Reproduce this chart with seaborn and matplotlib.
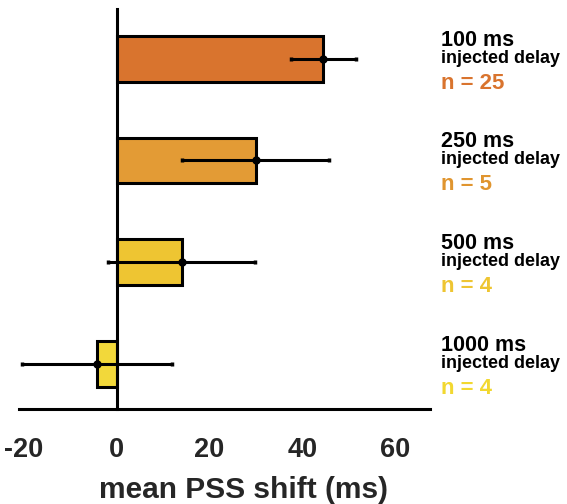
import matplotlib
matplotlib.use("Agg")
import matplotlib.pyplot as plt
import seaborn as sns
import pandas as pd
import numpy as np

# ---- data ----
delays = ["100 ms", "250 ms", "500 ms", "1000 ms"]
mean_shift = [44.5, 30.0, 14.0, -4.2]
err = [7.0, 15.8, 15.8, 16.1]
n_values = [25, 5, 4, 4]
colors = ["#D9742E", "#E39B35", "#EEC532", "#F2D83A"]
text_colors = ["#D9742E", "#E0952F", "#EEC532", "#F2D830"]
xticks = [-20, 0, 20, 40, 60]

sns.set_theme(style="white")
plt.rcParams["font.family"] = ["Liberation Sans", "DejaVu Sans"]

df = pd.DataFrame({"delay": delays, "shift": mean_shift})

fig = plt.figure(figsize=(5.67, 5.04), dpi=100)
ax = fig.add_axes([19 / 567, 95 / 504, 411 / 567, 400 / 504])

sns.barplot(data=df, x="shift", y="delay", hue="delay", palette=colors,
            order=delays, hue_order=delays, orient="h", width=0.45,
            saturation=1, edgecolor="black", linewidth=2.2, legend=False,
            errorbar=None, ax=ax)

ypos = np.arange(len(delays))
ax.errorbar(mean_shift, ypos, xerr=err, fmt="o", color="black", ms=5,
            elinewidth=2.2, capsize=1.5, capthick=2.5, zorder=5)

ax.set_xlim(-21, 67.5)
ax.set_ylim(3.445, -0.49)
ax.set_xticks(xticks)
ax.set_xticklabels([str(t) for t in xticks], fontsize=19.5, fontweight="bold")
ax.tick_params(axis="x", length=0, pad=20)
ax.set_yticks([])
ax.set_ylabel("")
ax.set_xlabel("mean PSS shift (ms)", fontsize=21.5, fontweight="bold")
ax.xaxis.set_label_coords((243 - 19) / 411, -(498 - 409) / 400)
ax.xaxis.label.set_va("baseline")

for s in ["top", "right"]:
    ax.spines[s].set_visible(False)
ax.spines["left"].set_position(("data", 0))
ax.spines["left"].set_linewidth(2.2)
ax.spines["left"].set_color("black")
ax.spines["bottom"].set_linewidth(2.2)
ax.spines["bottom"].set_color("black")

for i, (d, n) in enumerate(zip(delays, n_values)):
    trans = ax.get_yaxis_transform()
    ax.annotate(d, xy=(1.027, i), xycoords=trans, xytext=(0, 13),
                textcoords="offset pixels", fontsize=15.5, fontweight="bold",
                color="black", ha="left", va="baseline", annotation_clip=False)
    ax.annotate("injected delay", xy=(1.027, i), xycoords=trans, xytext=(0, -4),
                textcoords="offset pixels", fontsize=13, fontweight="bold",
                color="black", ha="left", va="baseline", annotation_clip=False)
    ax.annotate(f"n = {n}", xy=(1.027, i), xycoords=trans, xytext=(0, -30),
                textcoords="offset pixels", fontsize=16, fontweight="bold",
                color=text_colors[i], ha="left", va="baseline", annotation_clip=False)

fig.savefig("out.png", dpi=100)
